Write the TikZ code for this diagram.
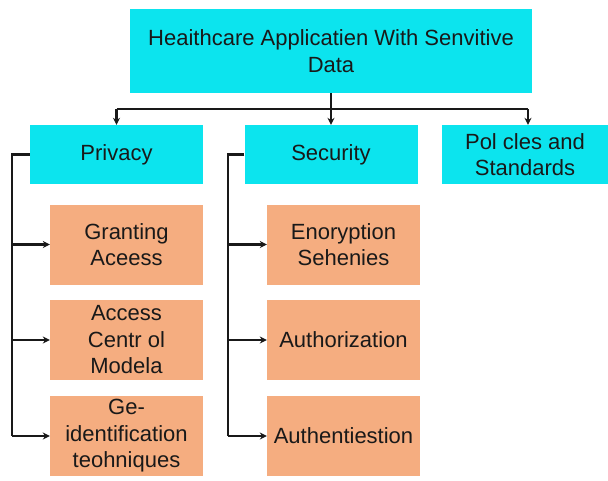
\documentclass[tikz,border=0pt]{standalone}
\usepackage{fontspec}
\setmainfont{Liberation Sans}
\usepackage{xcolor}
\usepackage{tikz}
\usetikzlibrary{positioning,arrows.meta,calc}
\definecolor{cyan400}{HTML}{0CE4EE}
\definecolor{peach300}{HTML}{F5AD80}
\tikzset{
  every node/.style={font=\fontsize{22}{26.5}\selectfont, text=black!90},
  topic/.style={
    rectangle, fill=cyan400,
    minimum width=173pt, minimum height=59pt,
    align=center, inner sep=2pt
  },
  method/.style={
    rectangle, fill=peach300,
    minimum width=153pt, minimum height=80pt,
    align=center, inner sep=2pt
  },
  arrow/.style={
    -{Stealth[length=7pt,width=7pt]},
    line width=2.2pt, draw=black!90
  },
  link/.style={line width=2.2pt, draw=black!90},
}

\begin{document}
\begin{tikzpicture}[x=1pt, y=-1pt]
  \useasboundingbox (0,0) rectangle (608,480);
  % root and main topics
  \node[topic, minimum width=402pt, minimum height=84pt] (app) at (331,51) {Heaithcare Applicatien With Senvitive\\Data};
  \node[topic] (privacy) at (116.5,154.5) {Privacy};
  \node[topic] (security) at (331,154.5) {Security};
  \node[topic, minimum width=166pt] (policies) at (525,154.5) {Pol cles and\\Standards};
  % privacy methods
  \node[method] (grant) at (126.5,244.5) {Granting\\Aceess};
  \node[method] (acm) at (126.5,340) {Access\\Centr ol\\Modela};
  \node[method] (deid) at (126.5,436) {Ge-\\identification\\teohniques};
  % security methods
  \node[method] (encrypt) at (343.5,244.5) {Enoryption\\Sehenies};
  \node[method] (authz) at (343.5,340) {Authorization};
  \node[method] (authn) at (343.5,436) {Authentiestion};
  % bus from the root
  \coordinate (busL) at (116.5,109);
  \coordinate (busR) at (528,109);
  \coordinate (privrail) at (12,154.5);
  \coordinate (secrail) at (228,154.5);
  \draw[link] (busL) -- (busR);
  \draw[arrow] (app.south) -- (security.north);
  \draw[arrow] (busL) -- (privacy.north);
  \draw[arrow] (busR) -- (busR |- policies.north);
  % rails to the methods
  \draw[link] (privacy.west) -- (privrail) -- (privrail |- deid.west);
  \draw[link] (security.west) -- (secrail) -- (secrail |- authn.west);
  \foreach \m in {grant,acm,deid}
    \draw[arrow] (privrail |- \m.west) -- (\m.west);
  \foreach \m in {encrypt,authz,authn}
    \draw[arrow] (secrail |- \m.west) -- (\m.west);
\end{tikzpicture}
\end{document}
